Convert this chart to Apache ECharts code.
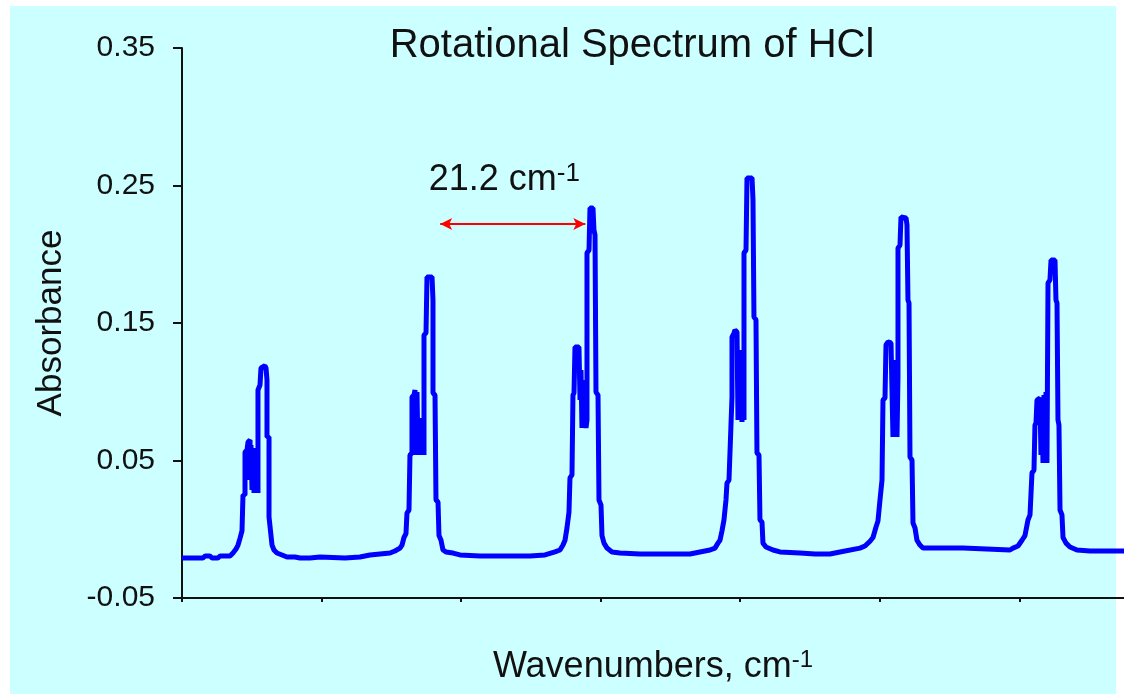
<!DOCTYPE html>
<html>
<head>
<meta charset="utf-8">
<script src="https://cdn.jsdelivr.net/npm/echarts@6/dist/echarts.min.js"></script>
<style>
  html, body { margin: 0; padding: 0; background: #ffffff; }
  #bg { position: absolute; left: 10px; top: 6px; width: 1106px; height: 688px; background: #CCFFFF; }
  #chart { position: absolute; left: 0; top: 0; width: 1124px; height: 696px; }
</style>
</head>
<body>
<div id="bg"></div>
<div id="chart"></div>
<script>
// ---- data (wavenumber cm^-1, absorbance) ----
const band1 = [[60.00,-0.0209],[63.01,-0.0209],[63.30,-0.0195],[64.01,-0.0195],[64.30,-0.0209],[65.16,-0.0209],[65.45,-0.0195],[66.88,-0.0195],[67.31,-0.0173],[67.74,-0.0144],[68.03,-0.0115],[68.31,-0.0066],[68.60,-0.0011],[68.74,0.0249],[69.03,0.0249],[69.03,0.0562],[69.32,0.0576],[69.46,0.0635],[69.75,0.0649],[69.75,0.0358],[69.89,0.0613],[70.03,0.0285],[70.17,0.0591],[70.32,0.0264],[70.46,0.0540],[70.60,0.0264],[70.75,0.0373],[70.89,0.0264],[70.89,0.1013],[71.18,0.1049],[71.32,0.1173],[71.89,0.1189],[72.04,0.1173],[72.18,0.1085],[72.18,0.0671],[72.47,0.0671],[72.47,0.0089],[72.75,0.0089],[72.90,-0.0115],[73.18,-0.0151],[73.61,-0.0173],[74.33,-0.0187],[75.05,-0.0202]];
const gap1 = [[76.19,-0.0202],[76.91,-0.0209],[78.34,-0.0209],[79.78,-0.0202],[83.36,-0.0209],[85.51,-0.0202],[86.94,-0.0187],[89.81,-0.0173]];
const band2 = [[90.52,-0.0158],[91.24,-0.0137],[91.53,-0.0115],[91.81,-0.0060],[92.10,-0.0031],[92.24,0.0118],[92.53,0.0140],[92.67,0.0540],[92.96,0.0555],[92.96,0.0962],[93.25,0.0976],[93.39,0.1013],[93.53,0.0540],[93.68,0.0998],[93.82,0.0555],[93.96,0.0809],[94.11,0.0540],[94.25,0.0795],[94.39,0.0540],[94.54,0.0736],[94.68,0.0540],[94.68,0.1413],[94.97,0.1427],[95.11,0.1835],[95.83,0.1835],[95.97,0.1667],[95.97,0.0991],[96.26,0.0976],[96.40,0.0213],[96.69,0.0198],[96.83,-0.0046],[97.12,-0.0080],[97.40,-0.0151],[97.83,-0.0165],[98.84,-0.0173]];
const gap2 = [[99.84,-0.0187],[102.71,-0.0195],[105.57,-0.0195],[109.87,-0.0195],[112.02,-0.0187],[113.45,-0.0165]];
const band3 = [[114.17,-0.0151],[114.60,-0.0115],[114.89,-0.0080],[115.17,0.0009],[115.46,0.0125],[115.60,0.0373],[115.89,0.0395],[116.03,0.0976],[116.18,0.0991],[116.32,0.1325],[116.89,0.1325],[117.04,0.0940],[117.18,0.1158],[117.32,0.0736],[117.47,0.1085],[117.61,0.0736],[117.75,0.0976],[117.90,0.0736],[118.04,0.0795],[118.04,0.2009],[118.33,0.2031],[118.47,0.2336],[118.90,0.2336],[119.04,0.2176],[119.19,0.2140],[119.33,0.0998],[119.62,0.0976],[119.76,0.0213],[120.05,0.0176],[120.19,-0.0046],[120.48,-0.0101],[120.91,-0.0137],[121.62,-0.0165]];
const gap3 = [[122.77,-0.0173],[125.64,-0.0180],[128.50,-0.0180],[132.80,-0.0180],[134.23,-0.0165],[135.67,-0.0151]];
const band4 = [[136.38,-0.0137],[136.81,-0.0101],[137.10,-0.0080],[137.39,-0.0011],[137.67,0.0067],[137.96,0.0213],[138.10,0.0336],[138.39,0.0358],[138.82,0.0962],[138.82,0.1398],[139.11,0.1427],[139.25,0.1449],[139.54,0.1435],[139.68,0.0795],[139.83,0.1304],[139.97,0.0795],[140.11,0.1231],[140.25,0.0780],[140.40,0.0940],[140.54,0.0795],[140.54,0.2009],[140.83,0.2031],[140.97,0.2555],[141.69,0.2555],[141.83,0.2395],[141.97,0.1544],[142.26,0.1522],[142.40,0.0555],[142.69,0.0540],[142.83,0.0067],[143.12,0.0053],[143.26,-0.0101],[143.69,-0.0129],[144.70,-0.0151]];
const gap4 = [[145.70,-0.0165],[148.57,-0.0173],[150.72,-0.0180],[152.86,-0.0180],[154.30,-0.0165]];
const band5 = [[157.16,-0.0137],[157.88,-0.0122],[158.60,-0.0087],[159.03,-0.0060],[159.46,0.0016],[159.74,0.0060],[160.03,0.0213],[160.32,0.0358],[160.46,0.0940],[160.75,0.0955],[160.89,0.1340],[161.18,0.1362],[161.61,0.1355],[161.75,0.1013],[161.89,0.0671],[162.04,0.1231],[162.18,0.0671],[162.32,0.1085],[162.47,0.0671],[162.61,0.1107],[162.61,0.2045],[162.90,0.2067],[163.04,0.2271],[163.76,0.2264],[163.90,0.2213],[164.04,0.1667],[164.19,0.1645],[164.33,0.0525],[164.62,0.0504],[164.76,0.0045],[165.05,0.0009],[165.33,-0.0080],[165.76,-0.0115],[166.19,-0.0137]];
const gap5 = [[167.20,-0.0137],[171.93,-0.0137],[172.21,-0.0151],[178.66,-0.0151],[179.09,-0.0137]];
const band6 = [[179.81,-0.0122],[180.38,-0.0080],[180.81,-0.0046],[181.24,0.0067],[181.53,0.0104],[181.81,0.0409],[182.10,0.0431],[182.24,0.0758],[182.39,0.0773],[182.53,0.0940],[182.96,0.0955],[183.10,0.0540],[183.25,0.0904],[183.39,0.0482],[183.53,0.0976],[183.68,0.0482],[183.82,0.0998],[183.96,0.0482],[184.11,0.1791],[184.39,0.1813],[184.54,0.1958],[185.11,0.1958],[185.25,0.1667],[185.40,0.1645],[185.54,0.0795],[185.68,0.0758],[185.83,0.0140],[186.11,0.0104],[186.26,-0.0060],[186.69,-0.0101],[187.26,-0.0129],[188.26,-0.0151],[190.12,-0.0158],[195.00,-0.0158]];

const yTicks = [-0.05, 0.05, 0.15, 0.25, 0.35];
const xTicks = [60, 80, 100, 120, 140, 160, 180];
const spacingArrow = [97.0, 117.8];   // wavenumbers of arrow ends
const spacingArrowY = 0.222;
const spacingLabel = '21.2';

const spectrum = [].concat(band1, gap1, band2, gap2, band3, gap3, band4, gap4, band5, gap5, band6);

const FONT = 'Liberation Sans, Arial, sans-serif';
const chart = echarts.init(document.getElementById('chart'), null, {renderer: 'canvas'});
chart.setOption({
  backgroundColor: 'transparent',
  animation: false,
  title: {
    text: 'Rotational Spectrum of HCl',
    left: 632, top: 26, padding: 0,
    textAlign: 'center',
    textStyle: { fontFamily: FONT, fontSize: 40, fontWeight: 'normal', color: '#111' }
  },
  grid: { left: 182, right: 0, top: 48, bottom: 98, containLabel: false },
  xAxis: {
    type: 'value', min: 60, max: 195,
    axisLine: { show: true, onZero: false, lineStyle: { color: '#111', width: 2 } },
    axisTick: { show: true, length: 4, customValues: xTicks, lineStyle: { color: '#111', width: 2 } },
    axisLabel: { show: false },
    splitLine: { show: false },
    name: 'Wavenumbers, cm{s|-1}',
    nameLocation: 'middle', nameGap: 50,
    nameTextStyle: {
      fontFamily: FONT, fontSize: 36, color: '#111',
      rich: { s: { fontFamily: FONT, fontSize: 24, color: '#111', verticalAlign: 'top', padding: [0,0,14,0] } }
    }
  },
  yAxis: {
    type: 'value', min: -0.05, max: 0.35,
    axisLine: { show: true, onZero: false, lineStyle: { color: '#111', width: 2 } },
    axisTick: { show: true, length: 9, customValues: yTicks, lineStyle: { color: '#111', width: 2 } },
    axisLabel: {
      customValues: yTicks, margin: 27,
      formatter: v => v.toFixed(2),
      fontFamily: FONT, fontSize: 30, color: '#111'
    },
    splitLine: { show: false },
    name: 'Absorbance', nameLocation: 'middle', nameRotate: 90, nameGap: 113,
    nameTextStyle: { fontFamily: FONT, fontSize: 35, color: '#111' }
  },
  series: [{
    type: 'line',
    data: spectrum,
    showSymbol: false,
    symbol: 'none',
    smooth: false,
    lineStyle: { color: '#0000FF', width: 5, join: 'bevel' },
    markLine: {
      silent: true,
      symbol: ['arrow', 'arrow'],
      symbolSize: [9, 12],
      lineStyle: { color: '#FF0000', width: 2, type: 'solid' },
      label: { show: false },
      data: [[{ coord: [spacingArrow[0], spacingArrowY] }, { coord: [spacingArrow[1], spacingArrowY] }]]
    },
    markPoint: {
      silent: true,
      symbol: 'circle', symbolSize: 0,
      data: [{
        coord: [106.2, 0.254],
        label: {
          show: true, position: 'inside',
          formatter: spacingLabel + ' cm{s|-1}',
          fontFamily: FONT, fontSize: 36, color: '#111',
          rich: { s: { fontFamily: FONT, fontSize: 26, color: '#111', verticalAlign: 'top', padding: [0,0,12,0] } }
        }
      }]
    }
  }]
});
</script>
</body>
</html>
